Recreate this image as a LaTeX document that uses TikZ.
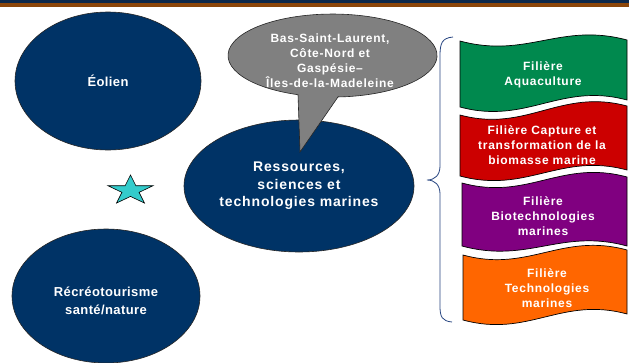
\documentclass[tikz,border=0pt]{standalone}
\usepackage{fontspec}
\setmainfont{Liberation Sans}
\newfontfamily\spacedA[LetterSpace=6]{Liberation Sans}
\newfontfamily\spacedB[LetterSpace=3]{Liberation Sans}
\usetikzlibrary{shapes.geometric}
\definecolor{topnavy}{RGB}{12,40,75}
\definecolor{topbrown}{RGB}{140,70,10}
\definecolor{navyfill}{RGB}{0,51,102}
\definecolor{callgray}{RGB}{128,128,128}
\definecolor{bgreen}{RGB}{0,137,78}
\definecolor{bred}{RGB}{204,0,0}
\definecolor{bpurple}{RGB}{128,0,128}
\definecolor{borange}{RGB}{255,102,0}
\definecolor{starcyan}{RGB}{51,204,204}
\definecolor{bracecol}{RGB}{40,70,130}
\tikzset{
  navyell/.style={ellipse, draw=black!85, line width=0.6pt, fill=navyfill, inner sep=0pt, text=white, align=center},
  bigtext/.style={font=\spacedA\bfseries\fontsize{14}{17.5}\selectfont},
  midtext/.style={font=\spacedB\bfseries\fontsize{13}{18}\selectfont},
  smalltext/.style={text=white, align=center, font=\spacedA\bfseries\fontsize{12}{15}\selectfont},
  bannerline/.style={draw=black, line width=0.7pt},
}
\newcommand{\wavebanner}[7]{%
  \draw[bannerline, fill=#1] (#2,#4) .. controls ({#2+0.4*(#3-#2)},{#4+18}) and ({#2+0.6*(#3-#2)},{#5-18}) .. (#3,#5)
    -- (#3,#7) .. controls ({#2+0.6*(#3-#2)},{#7-18}) and ({#2+0.4*(#3-#2)},{#6+18}) .. (#2,#6) -- cycle;}
\begin{document}
\begin{tikzpicture}[x=1pt, y=-1pt]
\useasboundingbox (0,0) rectangle (629,362);
\fill[white] (0,0) rectangle (629,362);
% top bars
\fill[topnavy] (0,0) rectangle (629,3);
\fill[topbrown] (0,3) rectangle (629,7);

% left ellipses
\node[navyell, midtext, minimum width=186pt, minimum height=138pt] (eolien) at (108,81) {Éolien};
\node[navyell, minimum width=188pt, minimum height=134pt] (recreo) at (106,296) {};
\node[text=white, align=center, midtext] (recreotxt) at (106,300.5) {Récréotourisme\\santé/nature};

% star
\node[star, star points=5, star point ratio=2.618, minimum size=31pt, inner sep=0pt,
      fill=starcyan, draw=black, line width=0.6pt, xscale=1.53] (star) at (130.5,190.5) {};

% centre ellipse
\node[navyell, bigtext, minimum width=230pt, minimum height=132pt] (centre) at (299,186)
  {Ressources,\\sciences et\\technologies marines};

% callout
\draw[draw=black!85, line width=0.6pt, fill=callgray]
  (338,96.9) -- (300,152) -- (298,94.7)
  arc[start angle=109.3, end angle=447, x radius=104.5, y radius=41.5] -- cycle;
\node[smalltext] (region) at (330,60.5) {Bas-Saint-Laurent,\\Côte-Nord et\\Gaspésie–\\Îles-de-la-Madeleine};

% brace
\draw[bracecol, line width=0.8pt] (453,37) .. controls (442,38) and (440,43) .. (440,56)
  -- (440,166) .. controls (440,175) and (435,180) .. (427,180)
  .. controls (435,180) and (440,185) .. (440,194)
  -- (440,306) .. controls (440,317) and (442,321) .. (452,322);

% banners
\wavebanner{bgreen}{460}{627}{41}{40}{107}{100}
\node[smalltext] (aqua) at (543,74.5) {Filière\\Aquaculture};
\wavebanner{bred}{460}{627}{115}{106}{176}{170}
\node[smalltext] (capture) at (542,145) {Filière Capture et\\transformation de la\\biomasse marine};
\wavebanner{bpurple}{462}{627}{183}{177}{246}{246}
\node[smalltext] (biotech) at (543,216) {Filière\\Biotechnologies\\marines};
\wavebanner{borange}{463}{627}{255}{250}{320}{314}
\node[smalltext] (techno) at (547,288) {Filière\\Technologies\\marines};
\end{tikzpicture}
\end{document}
